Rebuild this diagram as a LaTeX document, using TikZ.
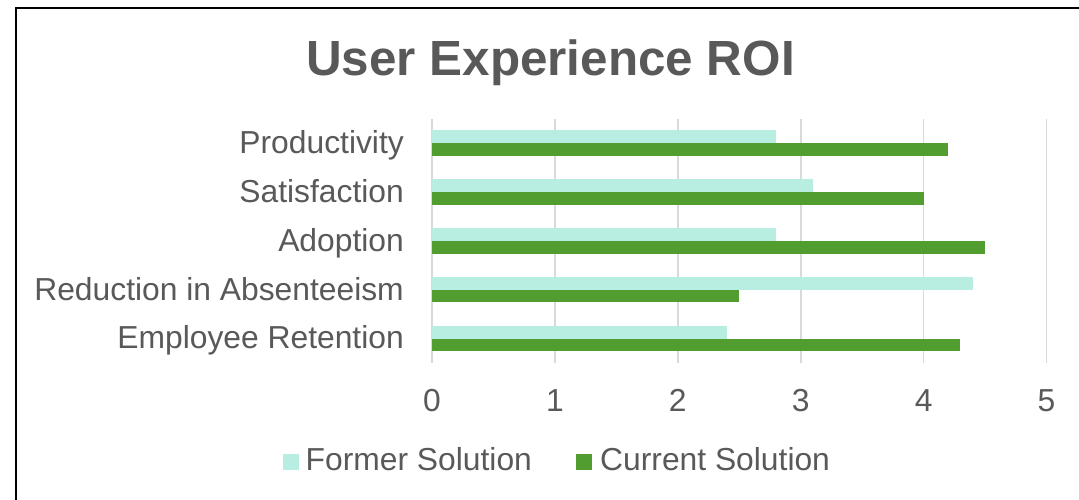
\documentclass[tikz,border=0pt]{standalone}
\usepackage{fontspec}
\setmainfont{Liberation Sans}
\definecolor{txt}{HTML}{595959}
\definecolor{former}{HTML}{B8EDE1}
\definecolor{current}{HTML}{519D2F}
\definecolor{gridc}{HTML}{D9D9D9}
\begin{document}
\begin{tikzpicture}[x=1pt,y=-1pt,
  lbl/.style={text=txt,font=\fontsize{31.8}{31.8}\selectfont,inner sep=0pt},
  gridline/.style={gridc,line width=1.6pt},
  swatch/.style={minimum size=15.5pt,inner sep=0pt}]
\useasboundingbox (0,0) rectangle (1079,499);
\fill[white] (0,0) rectangle (1079,499);
\draw[line width=2pt] (16,520) -- (16,8) -- (1100,8);
% title
\node[anchor=base,text=txt,inner sep=0pt,font=\bfseries\fontsize{49.4}{49.4}\selectfont] (title) at (550.5,75) {User Experience ROI};
% grid and ticks
\foreach \i in {0,...,5}{
  \draw[gridline] ({432+\i*122.9},118.5) -- ({432+\i*122.9},363);
  \node[lbl,anchor=base] (tick\i) at ({432+\i*122.9},411.7) {\i};
}
% bars
\foreach \name/\f/\c [count=\k] in {Productivity/2.8/4.2,Satisfaction/3.1/4.0,Adoption/2.8/4.5,Reduction in Absenteeism/4.4/2.5,Employee Retention/2.4/4.3}{
  \pgfmathsetmacro\yc{143+(\k-1)*48.9}
  \fill[former] (432,\yc-12.7) rectangle ({432+\f*122.9},\yc);
  \fill[current] (432,\yc) rectangle ({432+\c*122.9},\yc+12.7);
  \node[lbl,anchor=base east] (cat\k) at (404,\yc+10.3) {\name};
}
% legend
\node[swatch,fill=former] (lf) at (291,462) {};
\node[lbl,anchor=base west] (lft) at (305.5,470.7) {Former Solution};
\node[swatch,fill=current] (lc) at (584,462) {};
\node[lbl,anchor=base west] (lct) at (600,470.7) {Current Solution};
\end{tikzpicture}
\end{document}
